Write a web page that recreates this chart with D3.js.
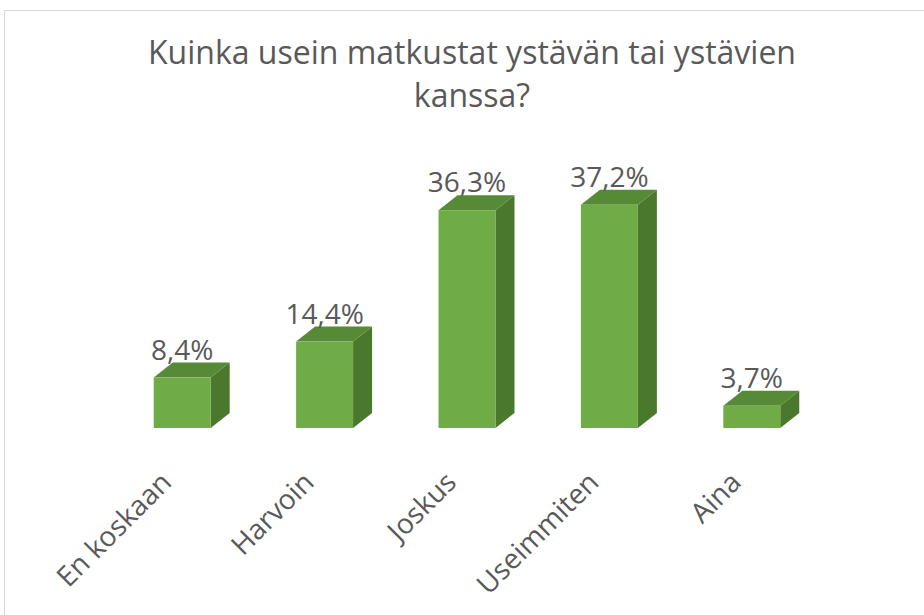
<!DOCTYPE html>
<html>
<head>
<meta charset="utf-8">
<script src="https://cdn.jsdelivr.net/npm/d3@7"></script>
<style>
  body { margin: 0; background: #fff; }
  svg text { font-family: "Open Sans", "Noto Sans", sans-serif; fill: #595959; }
</style>
</head>
<body>
<div class="chart"></div>
<script>
// data
var categories = ['En koskaan', 'Harvoin', 'Joskus', 'Useimmiten', 'Aina'];
var values = [8.4, 14.4, 36.3, 37.2, 3.7];
var titleLines = ['Kuinka usein matkustat ystävän tai ystävien', 'kanssa?'];

var w = 924, h = 615;
var svg = d3.select('div.chart').append('svg')
    .attr('width', w).attr('height', h);

// chart frame
svg.append('rect')
    .attr('x', 4.5).attr('y', 10.5)
    .attr('width', w + 10).attr('height', h + 10)
    .attr('fill', 'none').attr('stroke', '#d9d9d9');

// title
svg.append('g').selectAll('text')
    .data(titleLines)
    .enter().append('text')
    .attr('x', 472)
    .attr('y', function(d, i){ return 64 + i * 43; })
    .attr('text-anchor', 'middle')
    .style('font-size', '32px')
    .text(function(d){ return d; });

// scales
var base = 428;
var x = d3.scaleBand().domain(categories).range([111, 823])
    .paddingInner(0.6).paddingOuter(0.3);
var y = d3.scaleLinear().domain([0, 40]).range([base, base - 240]);

// 3d depth offset
var dx = 19, dy = -15;

var bar = svg.selectAll('.bar')
    .data(categories.map(function(c, i){ return {cat: c, v: values[i]}; }))
    .enter().append('g').attr('class', 'bar');

// side face
bar.append('path')
    .attr('fill', '#4a782c')
    .attr('d', function(d){
        var x1 = x(d.cat) + x.bandwidth(), t = y(d.v);
        return 'M' + [x1, base] + 'L' + [x1 + dx, base + dy] + 'L' + [x1 + dx, t + dy] + 'L' + [x1, t] + 'Z';
    });

// top face
bar.append('path')
    .attr('fill', '#578a36')
    .attr('d', function(d){
        var x0 = x(d.cat), x1 = x0 + x.bandwidth(), t = y(d.v);
        return 'M' + [x0, t] + 'L' + [x1, t] + 'L' + [x1 + dx, t + dy] + 'L' + [x0 + dx, t + dy] + 'Z';
    });

// front face
bar.append('rect')
    .attr('fill', '#6fac46')
    .attr('x', function(d){ return x(d.cat); })
    .attr('width', x.bandwidth())
    .attr('y', function(d){ return y(d.v); })
    .attr('height', function(d){ return base - y(d.v); });

// value labels
bar.append('text')
    .attr('x', function(d){ return x(d.cat) + x.bandwidth() / 2; })
    .attr('y', function(d){ return y(d.v) + dy - 3; })
    .attr('text-anchor', 'middle')
    .style('font-size', '28px')
    .text(function(d){ return d3.format('.1f')(d.v).replace('.', ',') + '%'; });

// category labels, rotated
var xAxis = d3.axisBottom(x).tickSize(0).tickPadding(0);
var axisG = svg.append('g')
    .attr('transform', 'translate(0,' + base + ')')
    .call(xAxis);
axisG.select('.domain').remove();
axisG.selectAll('.tick text')
    .attr('y', 0).attr('dy', 0)
    .attr('text-anchor', 'end')
    .attr('transform', 'translate(-9,56) rotate(-45)')
    .style('font-size', '28px')
    .style('font-family', '"Open Sans", "Noto Sans", sans-serif')
    .attr('fill', '#595959');
</script>
</body>
</html>
